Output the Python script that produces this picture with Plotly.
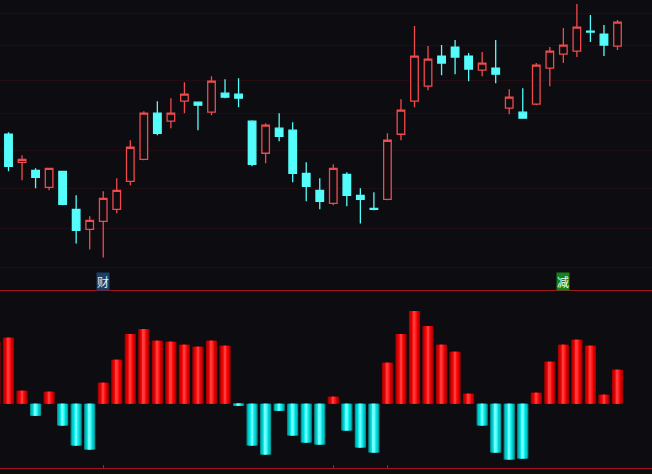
import plotly.graph_objects as go

# ---- data ----
idx = list(range(-1, 46))
opens = [13.4, 16.6, 13.8, 13.0, 11.3, 12.9, 9.1, 7.1, 7.9, 9.1, 11.9, 14.1, 18.7, 17.9, 19.9, 19.8,
         18.8, 20.7, 20.6, 17.9, 14.7, 17.2, 17.0, 12.7, 11.0, 9.7, 12.6, 10.5, 9.2, 10.1, 16.6, 19.9,
         21.4, 24.4, 25.3, 24.4, 23.0, 23.2, 19.2, 18.8, 19.6, 23.2, 24.6, 24.9, 26.9, 26.6, 25.4]
highs = [15.0, 16.8, 14.5, 13.2, 13.2, 12.9, 10.5, 8.4, 10.9, 12.2, 16.0, 18.9, 19.9, 20.2, 21.8, 19.8,
         22.4, 22.1, 22.2, 18.0, 17.7, 18.7, 17.8, 13.8, 12.2, 13.6, 12.8, 11.2, 10.8, 16.7, 20.1, 27.4,
         25.4, 25.5, 26.0, 24.7, 24.8, 26.0, 21.1, 21.2, 23.7, 25.3, 27.2, 29.6, 28.5, 27.5, 28.0]
lows = [13.2, 12.9, 12.0, 11.2, 11.0, 9.5, 5.7, 5.1, 4.3, 8.7, 11.5, 14.0, 16.5, 17.2, 18.7, 17.0,
        18.5, 20.2, 19.3, 13.4, 13.7, 15.9, 11.8, 9.9, 9.1, 9.5, 9.4, 7.7, 9.0, 10.0, 16.0, 19.3,
        21.0, 22.5, 22.6, 21.9, 22.4, 21.7, 18.6, 18.2, 19.5, 21.4, 23.7, 24.3, 25.8, 24.4, 25.0]
closes = [14.8, 13.4, 14.1, 12.3, 13.2, 9.6, 7.0, 8.0, 10.2, 11.0, 15.3, 18.7, 16.7, 18.7, 20.6, 19.5,
          21.9, 20.3, 20.2, 13.6, 17.5, 16.4, 12.7, 11.4, 9.9, 13.2, 10.5, 10.1, 9.1, 16.0, 19.0, 24.4,
          24.1, 23.7, 24.3, 23.1, 23.7, 22.6, 20.3, 18.2, 23.5, 24.9, 25.5, 27.3, 26.8, 25.5, 27.8]
hist = [6.2, 6.6, 1.3, -1.2, 1.2, -2.2, -4.2, -4.6, 2.1, 4.4, 7.0, 7.5, 6.3, 6.2, 5.9, 5.7,
        6.3, 5.8, -0.2, -4.2, -5.1, -0.7, -3.2, -3.9, -4.1, 0.7, -2.7, -4.4, -4.9, 4.1, 7.0, 9.3,
        7.8, 5.9, 5.2, 1.0, -2.2, -4.9, -5.6, -5.5, 1.1, 4.2, 5.9, 6.4, 5.8, 0.9, 3.4]
month_ticks = [7, 24, 28]
labels = [(7, "财"), (41, "减")]

BG = "#0d0c10"
RED = "#f04a4e"
CYAN = "#54fcfc"
GRID = "#220d12"
SEP = "#a0161c"

fig = go.Figure()

fig.add_trace(go.Candlestick(
    x=idx, open=opens, high=highs, low=lows, close=closes,
    increasing=dict(line=dict(color=RED, width=1.3), fillcolor=BG),
    decreasing=dict(line=dict(color=CYAN, width=1.3), fillcolor=CYAN),
    whiskerwidth=0, hoverinfo="skip", showlegend=False,
    xaxis="x", yaxis="y",
))

# layered bars to imitate cylinder shading
layers = [
    (0.82, "#a80000", "#009a9a"),
    (0.62, "#d80000", "#00cccc"),
    (0.36, "#ff1010", "#10f4f4"),
    (0.14, "#ff3a3a", "#70ffff"),
]
for w, rc, cc in layers:
    fig.add_trace(go.Bar(
        x=idx, y=hist, width=w,
        marker=dict(color=[rc if v >= 0 else cc for v in hist], line=dict(width=0)),
        hoverinfo="skip", showlegend=False, xaxis="x2", yaxis="y2",
    ))

for xi, t in labels:
    fig.add_annotation(
        x=xi, y=1.9, xref="x", yref="y", text=t, showarrow=False,
        font=dict(family="Noto Sans CJK SC", size=12,
                  color="#dfefff" if t == "财" else "#f0fff0"),
        bgcolor="#1d3f66" if t == "财" else "#16801a",
        borderpad=0,
    )

top_dom = [1 - 289.5 / 474, 1]
bot_dom = [6 / 474, 1 - 289.5 / 474]
xr = [-0.628, 47.55]

fig.update_layout(
    width=652, height=474,
    margin=dict(l=0, r=0, t=0, b=0, autoexpand=False),
    paper_bgcolor=BG, plot_bgcolor=BG,
    boxgap=0.2, barmode="overlay",
    showlegend=False,
    xaxis=dict(domain=[0, 1], range=xr, anchor="y", showgrid=False, zeroline=False,
               showticklabels=False, rangeslider=dict(visible=False),
               showline=True, linecolor=SEP, linewidth=1, ticks=""),
    yaxis=dict(domain=top_dom, range=[1.1, 30.0], showgrid=True, gridcolor=GRID, gridwidth=1,
               tickvals=[28.7, 25.5, 22.0, 18.7, 15.0, 11.2, 7.2, 3.3],
               showticklabels=False, zeroline=False, ticks=""),
    xaxis2=dict(domain=[0, 1], range=xr, anchor="y2", showgrid=False, zeroline=False,
                showticklabels=False, showline=True, linecolor=SEP, linewidth=1,
                tickvals=month_ticks, ticks="inside", ticklen=3, tickcolor="#8a2a2a"),
    yaxis2=dict(domain=bot_dom, range=[-6.45, 11.45], showgrid=False, zeroline=False,
                showticklabels=False, ticks=""),
)

fig.write_html(
    "out.html",
    config={"displayModeBar": False},
    post_script="document.body.style.margin='0';document.body.style.background='%s';" % BG,
)
